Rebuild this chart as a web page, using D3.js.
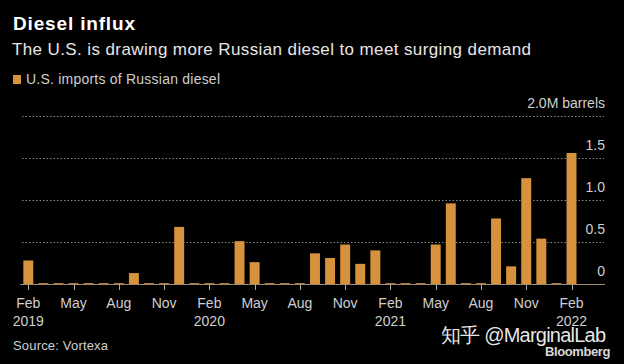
<!DOCTYPE html>
<html><head><meta charset="utf-8">
<script src="https://cdn.jsdelivr.net/npm/d3@7"></script>
<style>
html,body{margin:0;padding:0;background:#000;}
svg{display:block;}
text{font-family:"Liberation Sans","Noto Sans",Arial,sans-serif;}
</style></head>
<body>
<svg id="chart" width="624" height="364"></svg>
<script>
const months = [
 "2019-02","2019-03","2019-04","2019-05","2019-06","2019-07","2019-08","2019-09","2019-10","2019-11","2019-12",
 "2020-01","2020-02","2020-03","2020-04","2020-05","2020-06","2020-07","2020-08","2020-09","2020-10","2020-11","2020-12",
 "2021-01","2021-02","2021-03","2021-04","2021-05","2021-06","2021-07","2021-08","2021-09","2021-10","2021-11","2021-12",
 "2022-01","2022-02"];
const imports = [
 0.28,0.01,0.01,0.01,0.01,0.01,0.01,0.13,0.01,0.01,0.68,
 0.01,0.01,0.01,0.51,0.26,0.01,0.01,0.01,0.365,0.31,0.47,0.24,
 0.40,0.01,0.01,0.01,0.47,0.96,0.01,0.01,0.78,0.21,1.26,0.54,
 0.01,1.56];
const tickMonths = ["2019-02","2019-05","2019-08","2019-11","2020-02","2020-05","2020-08","2020-11","2021-02","2021-05","2021-08","2021-11","2022-02"];
const tickLabels = [["Feb","2019"],["May"],["Aug"],["Nov"],["Feb","2020"],["May"],["Aug"],["Nov"],["Feb","2021"],["May"],["Aug"],["Nov"],["Feb","2022"]];
const yTicks = [0,0.5,1.0,1.5,2.0];
const yTickLabels = ["0","0.5","1.0","1.5","2.0M barrels"];

const svg = d3.select("#chart");
const orange = "#d6923d";

svg.append("text").attr("x",13).attr("y",30).attr("fill","#fff")
  .attr("font-weight","bold").attr("font-size",19).attr("textLength",122).text("Diesel influx");
svg.append("text").attr("x",12).attr("y",55).attr("fill","#e6e6e6")
  .attr("font-size",17).attr("textLength",519).text("The U.S. is drawing more Russian diesel to meet surging demand");
svg.append("rect").attr("x",13).attr("y",75).attr("width",8).attr("height",9).attr("fill",orange);
svg.append("text").attr("x",26).attr("y",84).attr("fill","#cfcfcf")
  .attr("font-size",14).attr("textLength",194).text("U.S. imports of Russian diesel");

const x = d3.scaleBand().domain(months).range([20.75,579.05]).paddingInner(0.34).paddingOuter(0.17);
const y = d3.scaleLinear().domain([0,2]).range([284,116]);

// gridlines
svg.append("g").selectAll("line").data(yTicks.filter(d=>d>0)).join("line")
  .attr("x1",22).attr("x2",604)
  .attr("y1",d=>Math.round(y(d))+0.5).attr("y2",d=>Math.round(y(d))+0.5)
  .attr("stroke","#8a8a8a").attr("stroke-width",1).attr("stroke-dasharray","1.5,2");

// y labels
svg.append("g").selectAll("text").data(yTicks).join("text")
  .attr("x",605).attr("y",d=>y(d)-8).attr("text-anchor","end")
  .attr("fill","#cfcfcf").attr("font-size",14)
  .text((d,i)=>yTickLabels[i]);

// bars
svg.append("g").selectAll("rect").data(imports).join("rect")
  .attr("x",(d,i)=>x(months[i])).attr("width",x.bandwidth())
  .attr("y",d=>y(d)).attr("height",d=>y(0)-y(d)).attr("fill",orange);

// baseline
svg.append("line").attr("x1",20).attr("x2",605).attr("y1",284.5).attr("y2",284.5)
  .attr("stroke","#9a8a70").attr("stroke-width",1);

// x ticks
const xa = svg.append("g");
tickMonths.forEach((m,i)=>{
  const cx = x(m)+x.bandwidth()/2;
  xa.append("line").attr("x1",Math.round(cx)+0.5).attr("x2",Math.round(cx)+0.5)
    .attr("y1",284).attr("y2",290).attr("stroke","#aaa");
  tickLabels[i].forEach((t,j)=>{
    xa.append("text").attr("x",cx).attr("y",308+j*18).attr("text-anchor","middle")
      .attr("fill","#cfcfcf").attr("font-size",14).text(t);
  });
});

svg.append("text").attr("x",13).attr("y",350).attr("fill","#cfcfcf")
  .attr("font-size",13).attr("textLength",95).text("Source: Vortexa");
svg.append("text").attr("x",441).attr("y",342).attr("fill","#fff").attr("fill-opacity",0.92)
  .attr("font-family","'Noto Sans CJK SC','Noto Sans',sans-serif").attr("font-size",20)
  .attr("textLength",165).text("知乎 @MarginalLab");
svg.append("text").attr("x",610).attr("y",356).attr("text-anchor","end").attr("fill","#d8d8d8")
  .attr("font-weight","bold").attr("font-size",13).attr("letter-spacing",-0.4).text("Bloomberg");
</script>
</body></html>
